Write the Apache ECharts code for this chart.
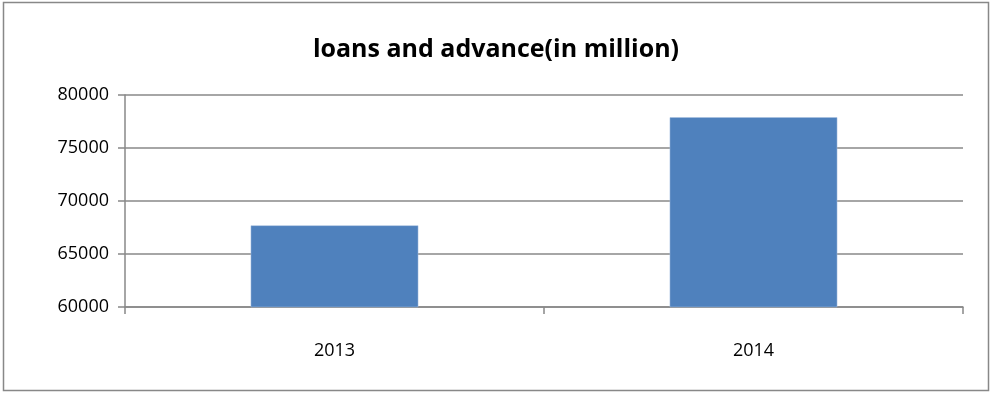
<!DOCTYPE html>
<html><head><meta charset="utf-8">
<script src="https://cdn.jsdelivr.net/npm/echarts@6/dist/echarts.min.js"></script>
<style>html,body{margin:0;padding:0;background:#fff}#c{width:992px;height:393px}</style>
</head><body><div id="c"></div>
<script>
const categories = ['2013', '2014'];
const values = [67700, 77900];
const titleText = 'loans and advance(in million)';
const chart = echarts.init(document.getElementById('c'));
const font = '"Liberation Sans Narrow", "Open Sans", sans-serif';
chart.setOption({
  animation: false,
  backgroundColor: '#fff',
  title: {
    text: titleText, left: 'center', top: 32,
    textStyle: { fontFamily: '"Open Sans", sans-serif', fontWeight: 'bold', fontSize: 25, color: '#000' }
  },
  graphic: [{ type: 'rect', shape: { x: 3.5, y: 2.5, width: 985, height: 388 }, style: { fill: 'none', stroke: '#888', lineWidth: 1.5 }, silent: true }],
  grid: { left: 125, right: 29, top: 95, bottom: 86, containLabel: false },
  xAxis: {
    type: 'category', data: categories,
    axisLine: { lineStyle: { color: '#888', width: 1.5 } },
    axisTick: { show: true, length: 7, lineStyle: { color: '#888', width: 1.5 } },
    axisLabel: { fontFamily: '"Open Sans", sans-serif', fontSize: 18, color: '#000', margin: 35 }
  },
  yAxis: {
    type: 'value', min: 60000, max: 80000, interval: 5000,
    axisLine: { show: true, lineStyle: { color: '#888', width: 1.5 } },
    axisTick: { show: true, length: 7, lineStyle: { color: '#888', width: 1.5 } },
    splitLine: { lineStyle: { color: '#888', width: 1.5 } },
    axisLabel: { fontFamily: '"Open Sans", sans-serif', fontSize: 18, color: '#000', margin: 16, formatter: v => String(v) }
  },
  series: [{
    type: 'bar', data: values, barWidth: '40%',
    itemStyle: { color: '#4f81bd', borderColor: '#a9c1e0', borderWidth: 0.5 }
  }]
});
</script></body></html>
